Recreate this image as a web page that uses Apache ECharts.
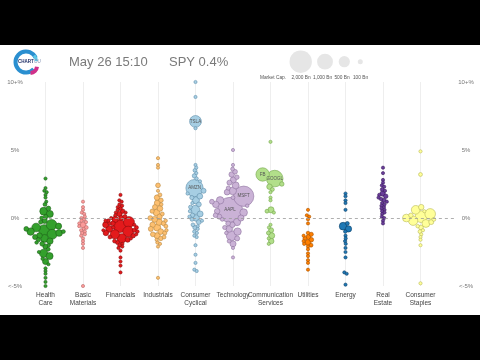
<!DOCTYPE html>
<html><head><meta charset="utf-8">
<script src="https://cdn.jsdelivr.net/npm/echarts@6/dist/echarts.min.js"></script>
<style>html,body{margin:0;padding:0;background:#000;width:480px;height:360px;overflow:hidden}
#c{position:absolute;left:0;top:45px;width:480px;height:270px;background:#fff}</style>
</head><body><div id="c"></div>
<script>
// ---------- data ----------
const categories = ['Health\nCare','Basic\nMaterials','Financials','Industrials','Consumer\nCyclical','Technology','Communication\nServices','Utilities','Energy','Real\nEstate','Consumer\nStaples'];
const yTickLabels = {'-5':'<-5%','0':'0%','5':'5%','10':'10+%'};

const ret_hc = [2.9,2.2,2.0,1.9,1.7,1.5,1.2,1.0,0.7,0.5,0.3,0.1,0.0,-0.2,-0.3,-0.5,-0.6,-0.7,-0.8,-0.9,-1.0,-1.0,-1.1,-1.2,-1.3,-1.4,-1.5,-1.6,-1.7,-1.8,-1.9,-2.0,-2.1,-2.3,-2.5,-2.6,-2.8,-3.0,-3.2,-3.4,-3.7,-3.9,-4.1,-4.4,-4.7,-5.0];
const cap_hc = [15,20,25,30,20,40,30,60,90,250,200,80,60,120,70,450,150,300,90,500,220,60,180,400,130,100,250,70,160,50,90,40,110,60,30,280,200,45,150,25,20,30,15,20,15,20];

const ret_bm = [1.2,0.8,0.6,0.4,0.3,0.1,0.0,-0.1,-0.2,-0.3,-0.4,-0.5,-0.6,-0.7,-0.8,-0.9,-1.0,-1.1,-1.2,-1.3,-1.5,-1.7,-1.9,-2.2,-5.0];
const cap_bm = [15,20,30,25,40,20,35,50,20,45,30,150,25,60,20,40,30,55,25,35,20,30,15,20,10];

const ret_fi = [1.7,1.3,1.2,1.0,0.9,0.8,0.7,0.6,0.5,0.4,0.4,0.3,0.2,0.1,0.0,0.0,-0.1,-0.2,-0.2,-0.3,-0.4,-0.4,-0.5,-0.5,-0.6,-0.7,-0.7,-0.8,-0.9,-0.9,-1.0,-1.0,-1.1,-1.2,-1.2,-1.3,-1.4,-1.5,-1.5,-1.6,-1.7,-1.8,-1.9,-2.0,-2.1,-2.2,-2.4,-2.9,-3.2,-3.5,-4.0];
const cap_fi = [20,30,40,25,50,35,60,30,80,45,25,120,40,70,100,30,160,55,35,480,90,40,140,30,650,60,45,190,70,30,470,50,120,340,35,80,60,360,40,100,55,70,40,60,30,25,20,15,20,15,20];

const ret_in = [4.4,3.9,3.7,2.4,2.0,1.7,1.5,1.3,1.1,1.0,0.8,0.7,0.5,0.4,0.3,0.1,0.0,-0.1,-0.2,-0.3,-0.4,-0.5,-0.6,-0.7,-0.8,-0.9,-1.0,-1.1,-1.2,-1.3,-1.4,-1.5,-1.6,-1.8,-1.9,-2.1,-4.4];
const cap_in = [15,20,15,90,40,60,120,80,150,50,100,130,70,180,60,110,90,140,50,170,80,120,60,200,100,45,130,70,90,150,60,80,40,50,30,25,15];

const ret_cc = [10.0,8.9,7.1,6.6,3.9,3.7,3.5,3.3,3.1,2.9,2.7,2.2,2.0,1.8,1.6,1.5,1.3,1.1,1.0,0.8,0.6,0.5,0.3,0.2,0.1,0.0,-0.1,-0.2,-0.3,-0.5,-0.6,-0.7,-0.8,-1.0,-1.1,-1.3,-1.4,-2.0,-2.7,-3.3,-3.8,-3.9];
const cap_cc = [15,20,560,15,25,40,60,30,80,50,35,1190,100,45,130,70,210,40,90,60,330,50,140,75,45,170,60,40,95,55,35,70,30,50,40,30,25,20,15,15,15,15];

const ret_te = [5.0,3.9,3.6,3.4,3.2,3.0,2.8,2.6,2.4,2.2,2.0,1.9,1.6,1.5,1.3,1.2,1.0,0.9,0.6,0.5,0.4,0.2,0.1,0.0,-0.1,-0.3,-0.4,-0.5,-0.7,-0.8,-1.0,-1.1,-1.3,-1.5,-1.7,-1.9,-2.2,-2.9];
const cap_te = [15,40,60,90,120,80,150,100,190,70,240,130,1650,60,220,90,170,50,2500,120,230,80,100,150,60,210,90,120,70,180,220,50,400,100,60,150,40,20];

const ret_cs = [5.6,3.2,2.9,2.5,2.3,2.1,1.9,1.5,1.3,0.6,0.5,0.4,-0.5,-0.7,-0.9,-1.1,-1.3,-1.5,-1.7,-1.9];
const cap_cs = [15,720,1100,80,120,60,40,20,25,150,60,40,30,25,100,60,150,40,120,30];

const ret_ut = [0.6,0.2,0.1,-0.1,-0.4,-1.1,-1.2,-1.3,-1.4,-1.5,-1.6,-1.7,-1.8,-1.9,-2.0,-2.1,-2.3,-2.6,-2.8,-3.1,-3.3,-3.8];
const cap_ut = [15,20,30,25,20,50,70,40,100,60,80,35,140,45,60,30,40,25,30,20,25,15];

const ret_en = [1.8,1.6,1.3,1.1,0.6,-0.4,-0.6,-0.8,-1.0,-1.3,-1.5,-1.7,-1.9,-2.2,-2.5,-2.9,-4.0,-4.1,-4.9];
const cap_en = [15,25,40,20,15,60,240,160,50,40,30,45,35,25,20,15,15,20,15];

const ret_re = [3.7,3.3,2.8,2.6,2.4,2.3,2.1,2.0,1.8,1.7,1.6,1.5,1.4,1.3,1.2,1.1,1.0,0.9,0.8,0.7,0.6,0.5,0.4,0.3,0.1,0.0,-0.2,-0.4];
const cap_re = [15,15,20,25,30,40,60,35,110,45,80,30,50,70,25,40,35,30,45,20,25,30,40,35,25,30,20,15];

const ret_st = [4.9,3.2,0.8,0.6,0.5,0.3,0.2,0.1,0.0,-0.1,-0.2,-0.3,-0.4,-0.6,-0.7,-0.9,-1.0,-1.2,-1.4,-1.6,-2.0,-4.8];
const cap_st = [15,60,120,300,40,450,80,550,240,60,350,100,250,50,90,40,60,30,40,30,20,15];

const returnsByCat = [ret_hc,ret_bm,ret_fi,ret_in,ret_cc,ret_te,ret_cs,ret_ut,ret_en,ret_re,ret_st];
const capsByCat = [cap_hc,cap_bm,cap_fi,cap_in,cap_cc,cap_te,cap_cs,cap_ut,cap_en,cap_re,cap_st];
// labelled stocks: [category index, point index, ticker]
const tickers = [[4,2,'TSLA'],[4,11,'AMZN'],[5,12,'MSFT'],[5,18,'AAPL'],[6,1,'FB'],[6,2,'GOOGL']];
const legendCaps = [2000,1000,500,100];
const legendCapLabels = ['2,000 Bn','1,000 Bn','500 Bn','100 Bn'];

// ---------- style ----------
const fills = ['#33a02c','#fb9a99','#e31a1c','#fdbf6f','#a6cee3','#cab2d6','#b2df8a','#ff7f00','#1f78b4','#6a3d9a','#ffff99'];
const borders = ['#1d5e18','#b86a6a','#8a0c0e','#b98a45','#5f8fab','#8e74a0','#73a64c','#a65200','#0f3f66','#3a1d5e','#b8b85a'];
const swarmSide = [1,1,1,1,1,1,-1,1,1,1,1];
const FONT = '"Liberation Sans", Arial, sans-serif';
const rad = c => Math.max(1.6, 0.25 * Math.sqrt(c));
const clampV = v => Math.max(-5, Math.min(10, v));

const chart = echarts.init(document.getElementById('c'), null, {renderer:'canvas'});
const base = {
  animation: false,
  backgroundColor: '#fff',
  grid: {left: 8, right: 22, top: 37, bottom: 29},
  xAxis: {type:'value', min:-1, max:11, interval:1,
    axisLine:{show:false}, axisTick:{show:false},
    splitLine:{show:true, showMinLine:false, showMaxLine:false, lineStyle:{color:'#eeeeee', width:1}},
    axisLabel:{margin:5, fontSize:6.5, lineHeight:8, color:'#444', fontFamily:FONT,
      formatter: v => { const i = Math.round(v); return (i>=0 && i<categories.length) ? categories[i] : ''; }}
  },
  yAxis: [
    {type:'value', min:-5, max:10, interval:5, position:'left',
      axisLine:{show:false}, axisTick:{show:false}, splitLine:{show:false},
      axisLabel:{inside:true, margin:7, align:'center', fontSize:6, color:'#777', fontFamily:FONT,
        formatter: v => yTickLabels[String(v)] || ''}},
    {type:'value', min:-5, max:10, interval:5, position:'right',
      axisLine:{show:false}, axisTick:{show:false}, splitLine:{show:false},
      axisLabel:{margin:8, align:'center', fontSize:6, color:'#777', fontFamily:FONT,
        formatter: v => yTickLabels[String(v)] || ''}}
  ],
  series: [{type:'scatter', data:[]}]
};
chart.setOption(base);

const p0 = chart.convertToPixel({gridIndex:0}, [0,0]);
const p1 = chart.convertToPixel({gridIndex:0}, [1,1]);
const pxX = p1[0]-p0[0], pxY = p0[1]-p1[1];

const crad = r => r*0.85;
function swarm(vals, caps, side){
  const nodes = vals.map((v,i)=>({i, v:clampV(v), y:-clampV(v)*pxY, r:rad(caps[i]), x:0}));
  nodes.forEach(n=>n.c=crad(n.r));
  const order = nodes.slice().sort((a,b)=>b.r-a.r);
  const placed = [];
  for (const n of order){
    const cand = [0];
    for (const p of placed){
      const dy = n.y-p.y, d = n.c+p.c;
      if (Math.abs(dy) < d){ const dx = Math.sqrt(d*d-dy*dy); cand.push(p.x+dx, p.x-dx); }
    }
    cand.sort((a,b)=>Math.abs(a)-Math.abs(b) || side*(b-a));
    for (const x of cand){
      let ok = true;
      for (const p of placed){
        const dy=n.y-p.y, dx=x-p.x, d=n.c+p.c-0.01;
        if (dx*dx+dy*dy < d*d){ ok=false; break; }
      }
      if (ok){ n.x = x; break; }
    }
    placed.push(n);
  }
  for (let it=0; it<160; it++){
    if (it<140) for (const n of nodes) n.x *= 0.97;
    for (let a=0;a<nodes.length;a++) for (let b=a+1;b<nodes.length;b++){
      const A=nodes[a], B=nodes[b];
      const dy=A.y-B.y, d=A.c+B.c;
      if (Math.abs(dy) >= d) continue;
      const need = Math.sqrt(d*d-dy*dy);
      const dx = A.x-B.x;
      if (Math.abs(dx) < need){
        const def = need-Math.abs(dx);
        const dir = dx===0 ? (a%2?1:-1) : Math.sign(dx);
        const wa = B.r*B.r/(A.r*A.r+B.r*B.r), wb = 1-wa;
        A.x += dir*def*wa; B.x -= dir*def*wb;
      }
    }
  }
  return nodes;
}

const series = [{
  type:'scatter', data:[], z:1, silent:true,
  markLine:{silent:true, symbol:['none','none'], label:{show:false},
    lineStyle:{type:[3,3], color:'#9a9a9a', width:0.8},
    data:[[{coord:[-0.55,0]},{coord:[10.97,0]}]]}
}];
returnsByCat.forEach((vals,ci)=>{
  const nodes = swarm(vals, capsByCat[ci], swarmSide[ci]);
  nodes.sort((a,b)=>b.r-a.r);
  const data = nodes.map(n=>{
    const t = tickers.find(k=>k[0]===ci && k[1]===n.i);
    const item = {value:[ci + n.x/pxX, n.v, capsByCat[ci][n.i]]};
    if (t) item.label = {show:true, position:'inside', formatter:t[2], fontSize:4.5, color:'#555', fontFamily:FONT};
    return item;
  });
  series.push({
    type:'scatter', z:2, data,
    symbolSize: val => 2*rad(val[2]),
    itemStyle:{color:fills[ci], borderColor:borders[ci], borderWidth:0.6, opacity:1},
    emphasis:{disabled:true}
  });
});

const graphic = [
  {type:'arc', shape:{cx:26, cy:17, r:10.5, startAngle:0.75, endAngle:5.9}, style:{stroke:'#2a8fd0', lineWidth:4, fill:null}},
  {type:'arc', shape:{cx:26, cy:17, r:10.5, startAngle:5.6, endAngle:6.2}, style:{stroke:'#5cc8e8', lineWidth:3, fill:null}},
  {type:'arc', shape:{cx:30, cy:21, r:7, startAngle:0.1, endAngle:1.5}, style:{stroke:'#d0308a', lineWidth:4, fill:null}},
  {type:'text', style:{x:18, y:17, text:'CHART', fontSize:4.5, fontWeight:'bold', fill:'#1f2f66', verticalAlign:'middle', fontFamily:FONT}},
  {type:'text', style:{x:31, y:17, text:'YOU', fontSize:4.5, fill:'#8090b0', verticalAlign:'middle', fontFamily:FONT}},
  {type:'text', style:{x:69, y:17, text:'May 26 15:10', fontSize:13, fill:'#7a7a7a', verticalAlign:'middle', fontFamily:FONT}},
  {type:'text', style:{x:169, y:17, text:'SPY 0.4%', fontSize:13, fill:'#7a7a7a', verticalAlign:'middle', fontFamily:FONT}},
  {type:'text', style:{x:273, y:32.5, text:'Market Cap.', fontSize:4.8, fill:'#555', align:'center', verticalAlign:'middle', fontFamily:FONT}}
];
const legX = [300.7, 325, 344.3, 360.3];
const legTX = [301, 322.5, 342, 360.5];
legendCaps.forEach((c,i)=>{
  graphic.push({type:'circle', shape:{cx:legX[i], cy:16.7, r:rad(c)}, style:{fill:'#e6e6e6'}});
  graphic.push({type:'text', style:{x:legTX[i], y:32.5, text:legendCapLabels[i], fontSize:4.8, fill:'#555', align:'center', verticalAlign:'middle', fontFamily:FONT}});
});

chart.setOption({series, graphic});
</script></body></html>
